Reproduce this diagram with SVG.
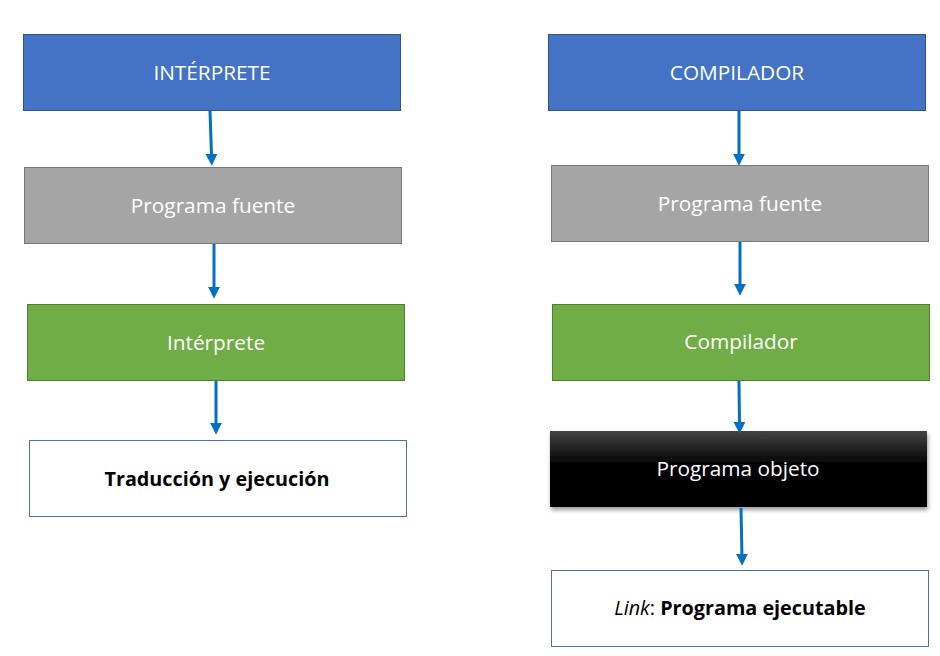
<svg xmlns="http://www.w3.org/2000/svg" width="940" height="656" viewBox="0 0 940 656">
<style>
.t{font-family:"Open Sans","Liberation Sans",sans-serif;font-size:20.8px;text-anchor:middle;dominant-baseline:central}
.b{font-size:19.8px;font-weight:bold}
.lk{font-size:19.8px}
.w{fill:#ffffff}
.k{fill:#000000}
.blue{fill:#4472C4;stroke:#2F528F;stroke-width:1}
.gray{fill:#A5A5A5;stroke:#787878;stroke-width:1}
.green{fill:#70AD47;stroke:#507E32;stroke-width:1}
.white{fill:#ffffff;stroke:#4472C4;stroke-width:1}
.c{stroke:#0070C0;stroke-width:3;fill:none;marker-end:url(#ah)}
</style>
<defs>
<marker id="ah" markerWidth="4" markerHeight="4" refX="1.4" refY="2" orient="auto" markerUnits="strokeWidth" viewBox="0 0 4 4">
<path d="M0,0 L4,2 L0,4 z" fill="#0070C0"/>
</marker>
<linearGradient id="bk" x1="0" y1="0" x2="0" y2="1">
<stop offset="0" stop-color="#444444"/>
<stop offset="0.45" stop-color="#000000"/>
<stop offset="1" stop-color="#000000"/>
</linearGradient>
<filter id="sh" x="-5%" y="-10%" width="110%" height="130%">
<feGaussianBlur in="SourceAlpha" stdDeviation="2"/>
<feOffset dx="1" dy="3"/>
<feComponentTransfer><feFuncA type="linear" slope="0.4"/></feComponentTransfer>
<feMerge><feMergeNode/><feMergeNode in="SourceGraphic"/></feMerge>
</filter>
</defs>
<rect width="940" height="656" fill="#ffffff"/>
<g id="n-interprete-title">
<rect class="blue" x="23.5" y="34.5" width="377" height="76"/>
<text class="t w" x="212" y="72">INTÉRPRETE</text>
</g>
<g id="n-left-fuente">
<rect class="gray" x="24.5" y="167.5" width="377" height="76"/>
<text class="t w" x="213" y="205">Programa fuente</text>
</g>
<g id="n-left-interprete">
<rect class="green" x="27.5" y="304.5" width="377" height="76"/>
<text class="t w" x="216" y="342">Intérprete</text>
</g>
<g id="n-left-traduccion">
<rect class="white" x="29.5" y="440.5" width="377" height="76"/>
<text class="t k b" x="217" y="478">Traducción y ejecución</text>
</g>
<g id="n-compilador-title">
<rect class="blue" x="548.5" y="34.5" width="377" height="76"/>
<text class="t w" x="737" y="72">COMPILADOR</text>
</g>
<g id="n-right-fuente">
<rect class="gray" x="551.5" y="165.5" width="377" height="76"/>
<text class="t w" x="740" y="203">Programa fuente</text>
</g>
<g id="n-right-compilador">
<rect class="green" x="552.5" y="304.5" width="377" height="76"/>
<text class="t w" x="741" y="341">Compilador</text>
</g>
<g id="n-right-objeto">
<rect x="550" y="431" width="377" height="76" fill="url(#bk)" filter="url(#sh)"/>
<text class="t w" x="738" y="468">Programa objeto</text>
</g>
<g id="n-right-link">
<rect class="white" x="551.5" y="570.5" width="377" height="76"/>
<text class="t k lk" x="740" y="607"><tspan font-style="italic">Link</tspan>: <tspan font-weight="bold">Programa ejecutable</tspan></text>
</g>
<g id="connectors">
<line class="c" x1="210" y1="111" x2="211.6" y2="158"/>
<line class="c" x1="214" y1="244" x2="214" y2="291"/>
<line class="c" x1="216" y1="381" x2="216" y2="427"/>
<line class="c" x1="739" y1="111" x2="739" y2="158"/>
<line class="c" x1="740" y1="242" x2="740" y2="288"/>
<line class="c" x1="739" y1="381" x2="739.5" y2="426"/>
<line class="c" x1="741" y1="508" x2="742" y2="558"/>
</g>
</svg>
